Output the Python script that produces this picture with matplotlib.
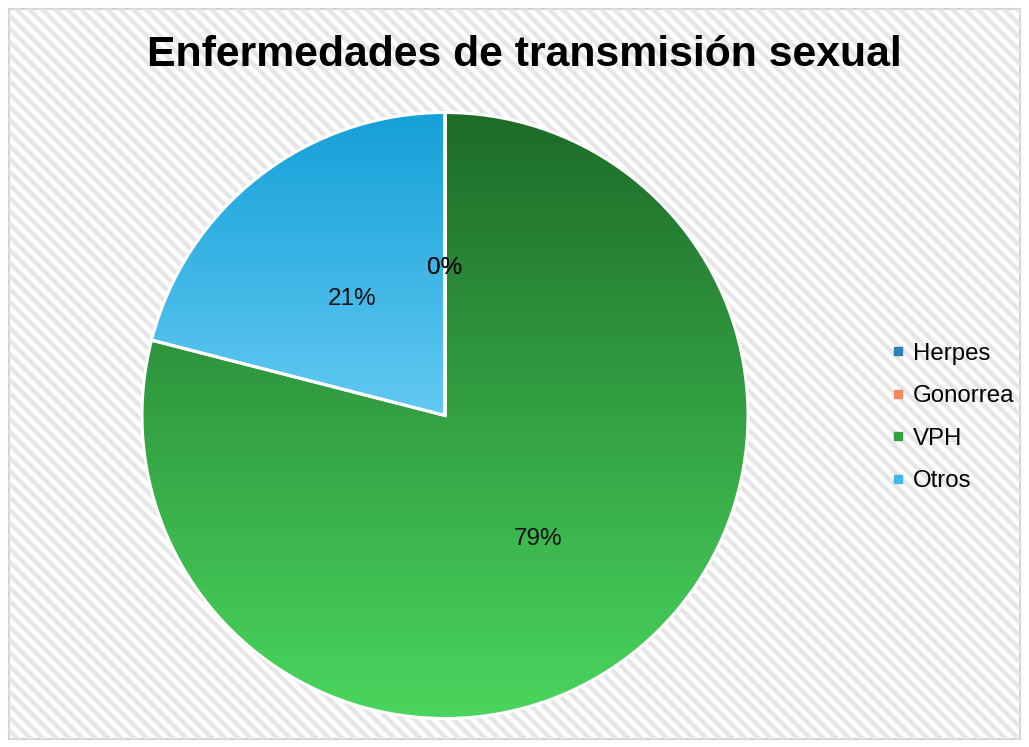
import numpy as np
import matplotlib
matplotlib.use("Agg")
import matplotlib.pyplot as plt
from matplotlib.colors import LinearSegmentedColormap
from matplotlib.lines import Line2D
from matplotlib.patches import Rectangle
from matplotlib.transforms import offset_copy

# ---- data ----
labels = ["Herpes", "Gonorrea", "VPH", "Otros"]
values = [0, 0, 79, 21]
legend_colors = ["#2f7fb2", "#f08a5d", "#34a043", "#42b8ea"]
grad_top = ["#2a6f9e", "#e8703c", "#1d6b28", "#15a0d8"]
grad_bot = ["#3e8fc4", "#f4a07a", "#4ad65e", "#62c9f2"]

W, H = 1029, 747
fig = plt.figure(figsize=(W / 100, H / 100), dpi=100)
fig.patch.set_facecolor("white")

# ---- hatched background + border ----
bg = fig.add_axes([0, 0, 1, 1], zorder=-5)
bg.set_xlim(0, W); bg.set_ylim(0, H); bg.axis("off")
clip = Rectangle((9, 8), W - 18, H - 17, transform=bg.transData, facecolor="none")
bg.add_patch(clip)
for k in range(-H, W + H, 13):
    ln, = bg.plot([k, k + H], [H, 0], color="#e6e6e6", lw=3.2, solid_capstyle="butt")
    ln.set_clip_path(clip)
bg.add_patch(Rectangle((9, 8), W - 18, H - 17, facecolor="none",
                       edgecolor="#d4d4d4", lw=1.5))

# ---- pie ----
cx, cy, r = 445, H - 415.5, 303
ax = fig.add_axes([(cx - r) / W, (cy - r) / H, 2 * r / W, 2 * r / H])
wedges, texts, autotexts = ax.pie(
    values, startangle=90, counterclock=False, autopct="%.0f%%", pctdistance=0.5,
    wedgeprops=dict(edgecolor="white", linewidth=2.2),
    textprops=dict(fontsize=17.5, family="Liberation Sans", color="#111111"))

for w, v, ct, cb in zip(wedges, values, grad_top, grad_bot):
    w.set_facecolor("none")
    w.set_zorder(3)
    if v == 0:
        continue
    ext = w.get_path().get_extents()
    cmap = LinearSegmentedColormap.from_list("g", [ct, cb])
    grad = np.linspace(0, 1, 256).reshape(-1, 1)
    im = ax.imshow(grad, cmap=cmap, aspect="auto", zorder=1,
                   extent=(-1.05, 1.05, ext.y0, ext.y1), origin="upper")
    im.set_clip_path(w)
# labels sit a few pixels lower in the original
for t in autotexts:
    t.set_zorder(5)
    t.set_transform(offset_copy(ax.transData, fig=fig, x=0, y=-3.5, units="dots"))
ax.set_xlim(-1.0, 1.0); ax.set_ylim(-1.0, 1.0)
ax.set_aspect("equal")

# ---- title ----
fig.text(524 / W, 1 - 55 / H, "Enfermedades de transmisión sexual",
         ha="center", va="center", fontsize=30.8, fontweight="bold",
         family="Liberation Sans")

# ---- legend ----
handles = [Line2D([], [], marker="s", ls="none", markersize=5.5, color=c) for c in legend_colors]
fig.legend(handles, labels, loc="center left", bbox_to_anchor=(891 / W, 1 - 417.5 / H),
           frameon=False, prop=dict(family="Liberation Sans", size=17.3),
           handlelength=0.6, handletextpad=0.3, labelspacing=0.85,
           borderaxespad=0, borderpad=0)

fig.savefig("out.png", dpi=100)
